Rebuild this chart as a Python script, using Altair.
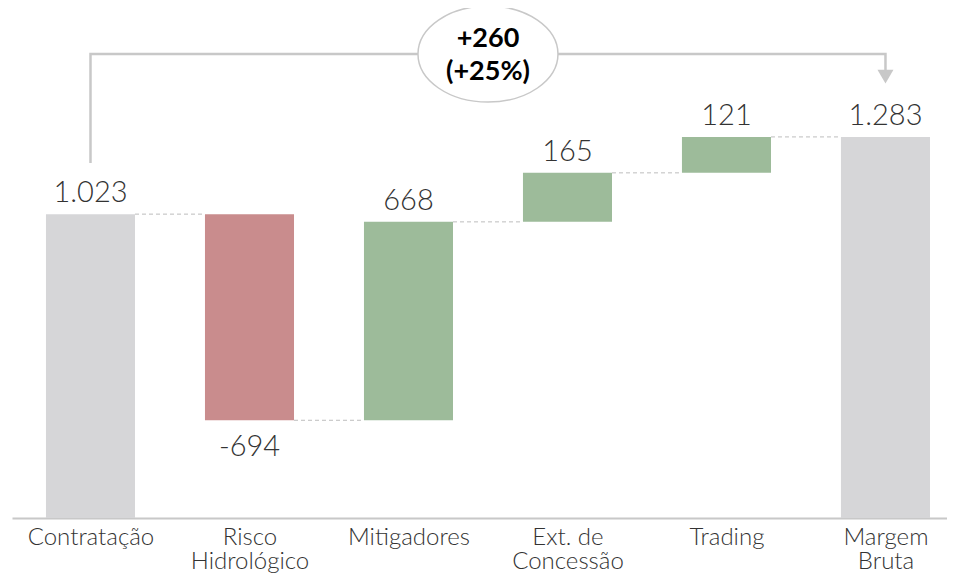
import json
import altair as alt
import pandas as pd

# ---- data -------------------------------------------------------------
categories = [["Contratação"], ["Risco", "Hidrológico"], ["Mitigadores"],
              ["Ext. de", "Concessão"], ["Trading"], ["Margem", "Bruta"]]
values = [1023, -694, 668, 165, 121, 1283]
kinds = ["total", "delta", "delta", "delta", "delta", "total"]
value_labels = ["1.023", "-694", "668", "165", "121", "1.283"]
change_lines = ["+260", "(+25%)"]

# ---- build waterfall table ---------------------------------------------
rows = []
running = 0
for i, (v, k, lab) in enumerate(zip(values, kinds, value_labels)):
    if k == "total":
        start, end = 0, v
        running = v
        color = "total"
    else:
        start, end = running, running + v
        running = running + v
        color = "pos" if v >= 0 else "neg"
    rows.append({"idx": i, "start": start, "end": end, "lo": min(start, end),
                 "hi": max(start, end), "label": lab, "kind": color,
                 "cum": running})
df = pd.DataFrame(rows)

conn = pd.DataFrame({"idx": df["idx"][:-1].values, "level": df["cum"][:-1].values})

HALF = 0.28
xs = alt.Scale(domain=[-0.4937, 5.387], nice=False, zero=False)
ys = alt.Scale(domain=[0, 1717], nice=False, zero=False)

label_expr = json.dumps(categories, ensure_ascii=False) + "[datum.value]"

base = alt.Chart(df)

bars = base.mark_rect().transform_calculate(
    x1=f"datum.idx - {HALF}", x2=f"datum.idx + {HALF}"
).encode(
    x=alt.X("x1:Q", scale=xs,
            axis=alt.Axis(values=[0, 1, 2, 3, 4, 5], labelExpr=label_expr,
                          title=None, ticks=False, grid=False,
                          domainColor="#c8c8c8", domainWidth=2,
                          labelFont="Lato", labelFontSize=24, labelFontWeight=300,
                          labelColor="#333333", labelPadding=7,
                          labelLineHeight=24, labelFlush=False,
                          labelOverlap=False)),
    x2="x2:Q",
    y=alt.Y("lo:Q", scale=ys, axis=None),
    y2="hi:Q",
    color=alt.Color("kind:N", legend=None,
                    scale=alt.Scale(domain=["total", "neg", "pos"],
                                    range=["#d6d6d8", "#c98c8d", "#9dbb9a"])),
)

connectors = alt.Chart(conn).mark_rule(
    color="#bdbdbd", strokeWidth=1, strokeDash=[4, 3]
).transform_calculate(
    a=f"datum.idx + {HALF}", b=f"datum.idx + 1 - {HALF}"
).encode(
    x=alt.X("a:Q", scale=xs), x2="b:Q",
    y=alt.Y("level:Q", scale=ys),
)

labels_up = base.transform_filter("datum.end >= datum.start").mark_text(
    font="Lato", fontSize=29, fontWeight=300, color="#333333",
    baseline="alphabetic", dy=-12
).encode(x=alt.X("idx:Q", scale=xs), y=alt.Y("hi:Q", scale=ys), text="label:N")

labels_down = base.transform_filter("datum.end < datum.start").mark_text(
    font="Lato", fontSize=29, fontWeight=300, color="#333333",
    baseline="alphabetic", dy=36
).encode(x=alt.X("idx:Q", scale=xs), y=alt.Y("lo:Q", scale=ys), text="label:N")

# ---- bracket annotation -------------------------------------------------
bracket_df = pd.DataFrame({
    "order": [0, 1, 2, 3],
    "bx": [0, 0, 5, 5],
    "by": [1195, 1562, 1562, 1500],
})
bracket = alt.Chart(bracket_df).mark_line(color="#c8c8c8", strokeWidth=2.5).encode(
    x=alt.X("bx:Q", scale=xs), y=alt.Y("by:Q", scale=ys), order="order:Q"
)

arrow = alt.Chart(pd.DataFrame({"ax": [5], "ay": [1486]})).mark_point(
    shape="M-1,-0.85L1,-0.85L0,0.85Z", size=256, filled=True,
    color="#c8c8c8", opacity=1
).encode(x=alt.X("ax:Q", scale=xs), y=alt.Y("ay:Q", scale=ys))

ellipse_path = ("M-1,0C-1,-0.379,-0.5523,-0.686,0,-0.686"
                "C0.5523,-0.686,1,-0.379,1,0"
                "C1,0.379,0.5523,0.686,0,0.686"
                "C-0.5523,0.686,-1,0.379,-1,0Z")
center = pd.DataFrame({"cx": [2.5], "cy": [1562]})
ellipse = alt.Chart(center).mark_point(
    shape=ellipse_path, size=19600, filled=True, fill="white",
    stroke="#c8c8c8", strokeWidth=1.5, opacity=1
).encode(x=alt.X("cx:Q", scale=xs), y=alt.Y("cy:Q", scale=ys))

change_text = alt.Chart(center).mark_text(
    text=change_lines, font="Lato", fontSize=27, fontWeight="bold",
    color="#000000", lineHeight=33, baseline="middle", align="center", dy=-15
).encode(x=alt.X("cx:Q", scale=xs), y=alt.Y("cy:Q", scale=ys))

chart = alt.layer(
    bars, connectors, labels_up, labels_down, bracket, arrow, ellipse, change_text
).properties(
    width=935, height=510,
    autosize=alt.AutoSizeParams(type="none"),
    padding={"left": 4, "top": 0, "right": 0, "bottom": 58},
).configure_view(strokeOpacity=0)

chart.save("out.html", embed_options={"renderer": "svg", "actions": False})
